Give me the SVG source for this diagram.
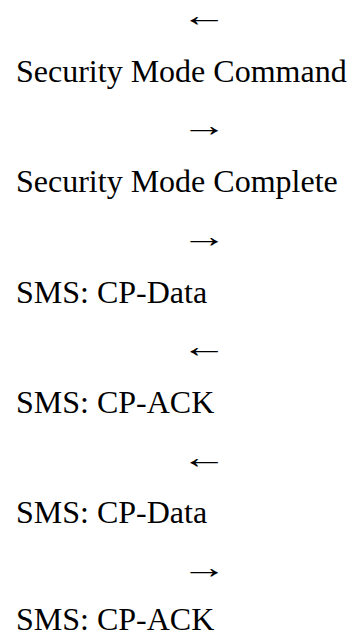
<svg xmlns="http://www.w3.org/2000/svg" width="348" height="639" viewBox="0 0 348 639">
<style>
.t{font-family:"Liberation Serif","Times New Roman",serif;font-size:32px;fill:#000;}
</style>
<rect width="348" height="639" fill="#fff"/>
<g id="a1"><text class="t" transform="translate(181.3 26) scale(1.45 1)">←</text></g>
<g id="m1"><text class="t" x="16" y="82">Security Mode Command</text></g>
<g id="a2"><text class="t" transform="translate(181.3 136.4) scale(1.45 1)">→</text></g>
<g id="m2"><text class="t" x="16" y="192.4">Security Mode Complete</text></g>
<g id="a3"><text class="t" transform="translate(181.3 247) scale(1.45 1)">→</text></g>
<g id="m3"><text class="t" x="16" y="302.8">SMS: CP-Data</text></g>
<g id="a4"><text class="t" transform="translate(181.3 357.2) scale(1.45 1)">←</text></g>
<g id="m4"><text class="t" x="16" y="413">SMS: CP-ACK</text></g>
<g id="a5"><text class="t" transform="translate(181.3 467.8) scale(1.45 1)">←</text></g>
<g id="m5"><text class="t" x="16" y="523">SMS: CP-Data</text></g>
<g id="a6"><text class="t" transform="translate(181.3 578.4) scale(1.45 1)">→</text></g>
<g id="m6"><text class="t" x="16" y="630">SMS: CP-ACK</text></g>
</svg>
